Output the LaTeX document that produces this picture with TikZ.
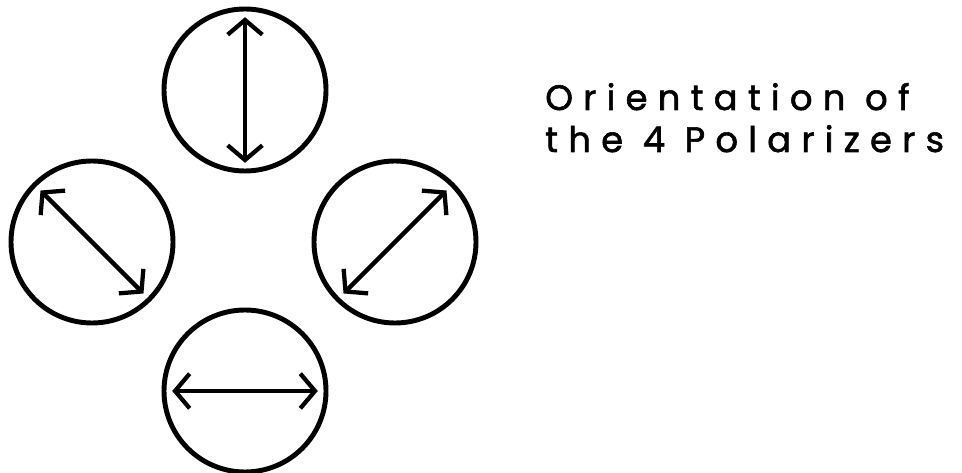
\documentclass[tikz,border=0pt]{standalone}
\usepackage{fontspec}
\usepackage{tikz}
\usetikzlibrary{arrows.meta, positioning}
\newfontfamily\plotfont[LetterSpace=29, FakeBold=1.6]{Poppins}
\definecolor{inkcol}{RGB}{0, 0, 0}
\tikzset{
  polar/.style = {draw=inkcol, circle, line width=3.7pt, inner sep=0pt,
                  minimum size=121.5pt},
  axis/.style  = {{Straight Barb[length=11pt, width=26pt]}-{Straight Barb[length=11pt, width=26pt]},
                  draw=inkcol, line width=3.2pt, shorten <=8pt, shorten >=8pt},
  caption/.style = {font=\plotfont\fontsize{26.5}{31.5}\selectfont,
                    align=left, inner sep=0pt},
}
\begin{document}
\begin{tikzpicture}[x=0.75pt, y=-0.75pt]
  \useasboundingbox (0,0) rectangle (962,473);

  %% ---------------- the four polarizers ----------------
  \node[polar] (ptop)   at (245,90)  {};
  \node[polar] (pleft)  at (92,242)  {};
  \node[polar] (pright) at (395,242) {};
  \node[polar] (pbot)   at (245,391) {};

  %% ---------------- transmission axes ----------------
  \draw[axis] (ptop.90)    -- (ptop.270);
  \draw[axis] (pleft.135)  -- (pleft.315);
  \draw[axis] (pright.225) -- (pright.45);
  \draw[axis] (pbot.180)   -- (pbot.0);

  %% ---------------- caption ----------------
  \node[caption, anchor=base west] (title) at (545,152)
       {Orientation of\\the 4 Polarizers};

\end{tikzpicture}
\end{document}
